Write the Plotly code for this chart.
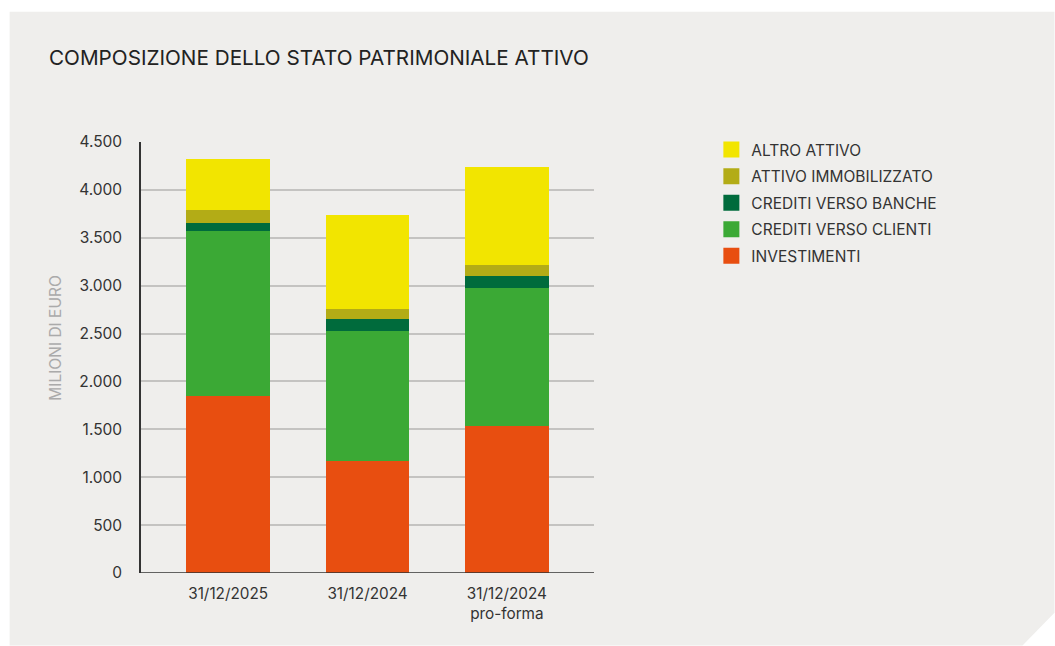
import plotly.graph_objects as go

# Categories and series (milioni di euro)
categories = ["31/12/2025", "31/12/2024", "31/12/2024<br>pro-forma"]
investimenti = [1850, 1170, 1538]
crediti_clienti = [1716, 1354, 1434]
crediti_banche = [93, 125, 125]
attivo_immobilizzato = [136, 104, 115]
altro_attivo = [531, 980, 1031]

series_names = ["INVESTIMENTI", "CREDITI VERSO CLIENTI", "CREDITI VERSO BANCHE",
                "ATTIVO IMMOBILIZZATO", "ALTRO ATTIVO"]
series_values = [investimenti, crediti_clienti, crediti_banche,
                 attivo_immobilizzato, altro_attivo]
series_colors = ["#E84E10", "#3BA935", "#006B3C", "#B3AC16", "#F2E500"]

y_ticks = [0, 500, 1000, 1500, 2000, 2500, 3000, 3500, 4000, 4500]
y_tick_labels = ["0", "500", "1.000", "1.500", "2.000", "2.500",
                 "3.000", "3.500", "4.000", "4.500"]

W, H = 1055, 646
ML, MR, MT, MB = 140.5, 461, 141.5, 72.7
PW, PH = W - ML - MR, H - MT - MB

def px(x):
    return (x - ML) / PW

def py(y):
    return (H - MB - y) / PH

FONT = "Inter, Liberation Sans, sans-serif"

fig = go.Figure()
for name, vals, col in zip(series_names, series_values, series_colors):
    fig.add_trace(go.Bar(
        x=[0, 1, 2], y=vals, name=name, marker=dict(color=col, line=dict(width=0)),
        width=0.6, hoverinfo="y+name", showlegend=False,
    ))

# Legend entries with large square swatches, top of the stack listed first;
# one group each so the group gap sets the row spacing
for name, col in reversed(list(zip(series_names, series_colors))):
    fig.add_trace(go.Scatter(
        x=[None], y=[None], mode="markers", name=name, legendgroup=name,
        marker=dict(symbol="square", size=16, color=col, line=dict(width=0)),
        hoverinfo="skip",
    ))

# Light panel with a clipped bottom-right corner
panel_path = (f"M {px(9)} {py(11)} L {px(1055)} {py(11)} L {px(1055)} {py(613)} "
              f"L {px(1023)} {py(646)} L {px(9)} {py(646)} Z")

fig.update_layout(
    width=W, height=H,
    margin=dict(l=ML, r=MR, t=MT, b=MB, pad=0),
    barmode="stack",
    paper_bgcolor="#ffffff",
    plot_bgcolor="rgba(0,0,0,0)",
    font=dict(family=FONT, color="#333333", size=15.5),
    shapes=[dict(type="path", path=panel_path, xref="paper", yref="paper",
                 fillcolor="#EFEEEC", line=dict(width=0), layer="below")],
    xaxis=dict(
        range=[-0.625, 2.625], tickmode="array", tickvals=[0, 1, 2],
        ticktext=categories, showgrid=False, zeroline=False,
        showline=False, ticks="", ticklabelstandoff=10,
        tickfont=dict(size=15.3, color="#333333"),
        fixedrange=True,
    ),
    yaxis=dict(
        range=[0, 4500], tickmode="array", tickvals=y_ticks, ticktext=y_tick_labels,
        showgrid=True, gridcolor="#C4C3C1", gridwidth=1.5, zeroline=False,
        showline=True, linecolor="#333333", linewidth=1.5,
        ticks="", ticklabelstandoff=14, tickfont=dict(size=15.5, color="#333333"),
        fixedrange=True,
    ),
    legend=dict(
        x=px(711.5), y=py(132.5), xanchor="left", yanchor="top",
        traceorder="grouped", bgcolor="rgba(0,0,0,0)",
        font=dict(size=15.5, color="#333333"), itemwidth=30,
        tracegroupgap=3.4, itemsizing="trace",
    ),
    annotations=[
        dict(text="COMPOSIZIONE DELLO STATO PATRIMONIALE ATTIVO",
             xref="paper", yref="paper", x=px(46), y=py(57),
             xanchor="left", yanchor="middle", showarrow=False,
             font=dict(size=20.7, color="#222222", family=FONT)),
        dict(text="MILIONI DI EURO", xref="paper", yref="paper",
             x=px(55), y=py(338), textangle=-90, xanchor="center",
             yanchor="middle", showarrow=False,
             font=dict(size=15.5, color="#AAAAAA", family=FONT)),
    ],
    bargap=0,
)

# x axis baseline
fig.add_shape(type="line", xref="paper", yref="y", x0=0, x1=1, y0=0, y1=0,
              line=dict(color="#333333", width=1.5))

fig.write_html("out.html")
